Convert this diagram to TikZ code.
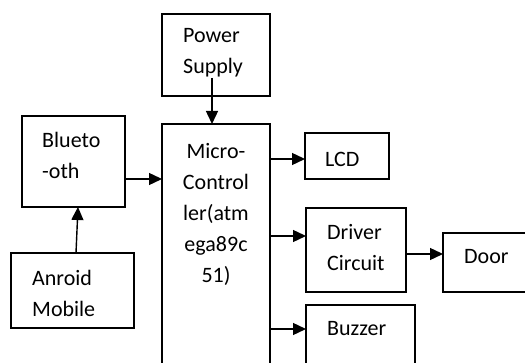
\documentclass[tikz,border=0pt]{standalone}
\usepackage{fontspec}
\setmainfont{Carlito}
\usetikzlibrary{arrows.meta}
\begin{document}
\begin{tikzpicture}[x=1pt,y=-1pt,
  box/.style={draw, line width=1.3pt, inner sep=0pt, outer sep=0pt},
  lbl/.style={inner sep=0pt, font=\fontsize{22}{31}\selectfont},
  arr/.style={line width=1.4pt, -{Triangle[length=13pt,width=12pt]}}]
\clip (0,0) rectangle (525,363);
\fill[white] (0,0) rectangle (525,363);
% boxes
\node[box, minimum width=108pt, minimum height=82pt] (ps) at (216,55) {};
\node[box, minimum width=108pt, minimum height=256pt] (mc) at (216,252) {};
\node[box, minimum width=103pt, minimum height=91pt] (bt) at (73.5,161.5) {};
\node[box, minimum width=123pt, minimum height=75pt] (an) at (72.5,290.5) {};
\node[box, minimum width=84pt, minimum height=46pt] (lcd) at (347,156) {};
\node[box, minimum width=100pt, minimum height=84pt] (drv) at (356,250) {};
\node[box, minimum width=92pt, minimum height=59pt] (door) at (489,262.5) {};
\node[box, minimum width=109pt, minimum height=70pt] (buz) at (360.5,340) {};
% labels
\node[lbl, anchor=west, align=left] (pst) at (183,53) {Power\\Supply};
\node[lbl, anchor=center, align=center] (mct) at (216,214) {Micro-\\Control\\ler(atm\\ega89c\\51)};
\node[lbl, anchor=west, align=left] (btt) at (42,155.5) {Blueto\\-oth};
\node[lbl, anchor=west, align=left] (ant) at (32,293.5) {Anroid\\Mobile};
\node[lbl, anchor=west] (lcdt) at (325,159) {LCD};
\node[lbl, anchor=west, align=left] (drvt) at (327,247.5) {Driver\\Circuit};
\node[lbl, anchor=west] (doort) at (464,257) {Door};
\node[lbl, anchor=west] (buzt) at (327,329) {Buzzer};
% connectors
\coordinate (psin) at (212,78);
\draw[arr] (psin) -- (psin |- mc.north);
\draw[arr] (bt.east |- 0,179) -- (mc.west |- 0,179);
\draw[arr] (an.north -| 76,0) -- (bt.south -| 78,0);
\draw[arr] (mc.east |- 0,159) -- (lcd.west |- 0,159);
\draw[arr] (mc.east |- 0,236) -- (drv.west |- 0,236);
\draw[arr] (drv.east |- 0,254) -- (door.west |- 0,254);
\draw[arr] (mc.east |- 0,329) -- (buz.west |- 0,329);
\end{tikzpicture}
\end{document}
